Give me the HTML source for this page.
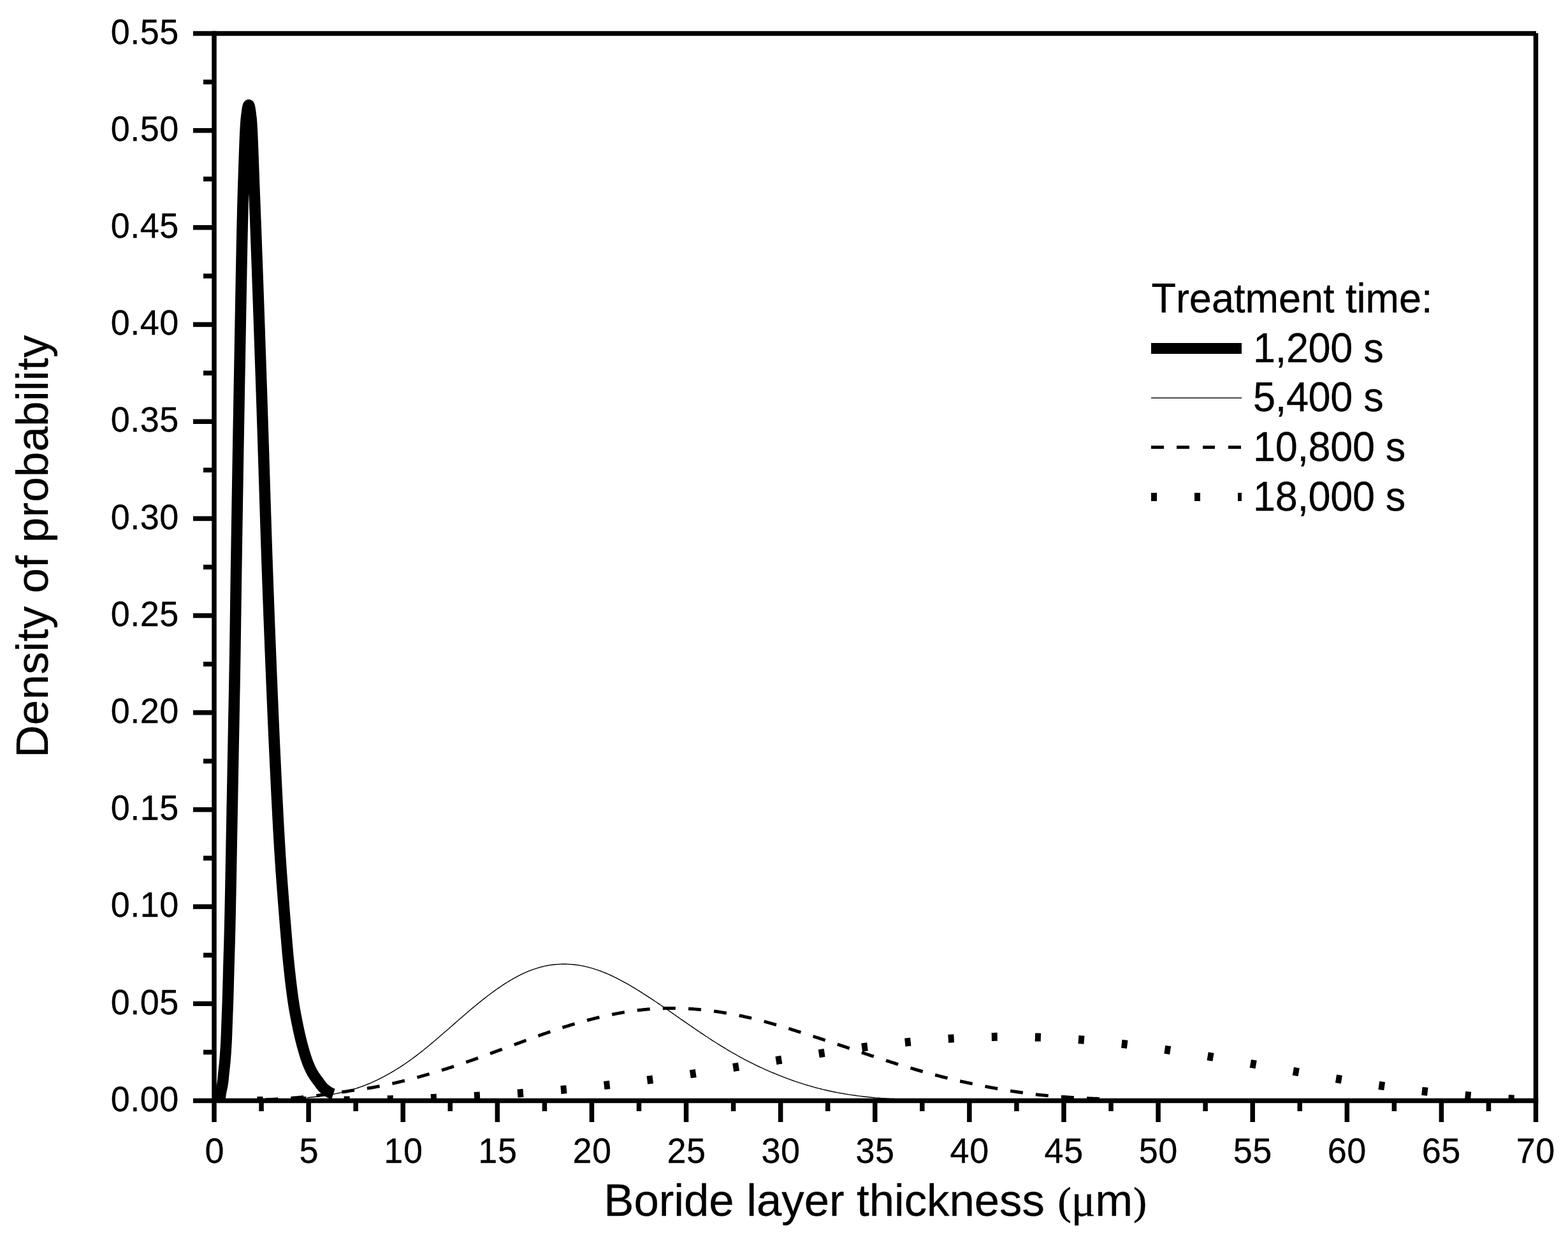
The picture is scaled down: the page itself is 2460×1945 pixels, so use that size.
<!DOCTYPE html>
<html lang="en"><head><meta charset="utf-8"><title>Density of probability vs boride layer thickness</title>
<style>html,body{margin:0;padding:0;background:#fff}body{width:2460px;height:1945px;overflow:hidden}svg{display:block}text{font-family:"Liberation Sans",sans-serif;fill:#000;stroke:#000;stroke-width:0.3px;stroke-linejoin:round;font-kerning:none;font-variant-ligatures:none}.tk{font-size:54px;letter-spacing:0.55px}.lg{font-size:63px}.tt{font-size:70.7px}.sy{font-family:"Liberation Serif",serif}</style></head><body>
<svg width="2460" height="1945" viewBox="0 0 2460 1945">
<rect x="0" y="0" width="2460" height="1945" fill="#fff"/>
<defs><clipPath id="cp"><rect x="336" y="52" width="2074" height="1678"/></clipPath></defs>
<g clip-path="url(#cp)" fill="none" stroke="#000">
<path d="M336.00,1726.50 L336.37,1726.50 L336.75,1726.50 L337.12,1726.49 L337.50,1726.48 L337.87,1726.47 L338.25,1726.46 L338.62,1726.44 L339.00,1726.42 L339.37,1726.40 L339.75,1726.37 L340.12,1726.34 L340.49,1726.31 L340.87,1726.27 L341.24,1726.23 L341.62,1726.18 L341.99,1726.13 L342.37,1726.07 L342.74,1726.01 L343.12,1725.95 L343.41,1725.89 L343.49,1725.86 L343.87,1725.51 L344.24,1724.82 L344.62,1723.87 L344.99,1722.74 L345.00,1722.70 L345.36,1720.77 L345.74,1717.82 L346.11,1715.04 L346.13,1714.93 L346.49,1712.90 L346.86,1711.00 L347.24,1709.24 L347.61,1707.55 L347.99,1705.85 L348.36,1704.05 L348.74,1702.09 L349.11,1699.86 L349.33,1698.41 L349.48,1697.26 L349.86,1694.01 L350.23,1690.29 L350.61,1686.40 L350.98,1682.62 L351.05,1682.00 L351.36,1679.17 L351.73,1675.88 L352.11,1672.56 L352.48,1668.98 L352.80,1665.63 L352.86,1664.94 L353.23,1660.53 L353.60,1655.79 L353.98,1650.62 L354.35,1644.94 L354.73,1638.66 L355.05,1632.79 L355.10,1631.66 L355.48,1622.73 L355.85,1612.28 L356.23,1601.72 L356.29,1600.01 L356.60,1591.99 L356.98,1582.34 L357.33,1572.49 L357.35,1571.80 L357.73,1559.71 L358.10,1546.43 L358.47,1532.52 L358.85,1518.56 L359.22,1505.10 L359.37,1500.05 L359.60,1492.85 L359.97,1480.75 L359.99,1480.00 L360.35,1466.34 L360.72,1450.42 L361.10,1433.37 L361.47,1415.58 L361.59,1409.69 L361.85,1397.02 L362.22,1377.01 L362.59,1356.39 L362.90,1339.99 L362.97,1336.09 L363.34,1316.06 L363.72,1296.04 L364.09,1276.03 L364.47,1256.01 L364.84,1235.98 L365.22,1215.94 L365.59,1195.89 L365.89,1179.98 L365.97,1175.83 L366.34,1156.17 L366.71,1136.84 L367.09,1117.53 L367.46,1097.93 L367.84,1077.74 L368.21,1056.63 L368.49,1039.98 L368.59,1034.26 L368.96,1009.82 L369.34,983.76 L369.71,956.98 L370.09,930.40 L370.46,904.93 L370.54,899.85 L370.84,880.77 L371.21,856.88 L371.58,833.22 L371.96,809.79 L372.33,786.62 L372.71,763.72 L373.08,741.09 L373.46,718.75 L373.83,696.71 L374.21,674.98 L374.58,653.57 L374.96,632.50 L375.33,611.77 L375.54,600.05 L375.70,591.33 L376.08,570.70 L376.45,549.86 L376.83,528.93 L377.20,508.01 L377.58,487.21 L377.95,466.64 L378.33,446.40 L378.70,426.61 L379.08,407.38 L379.45,388.81 L379.82,371.01 L380.20,354.10 L380.57,338.17 L380.95,323.34 L381.32,309.72 L381.62,299.95 L381.70,297.38 L382.07,285.52 L382.45,273.82 L382.82,262.38 L383.20,251.31 L383.57,240.70 L383.95,230.66 L384.32,221.28 L384.69,212.68 L385.07,204.95 L385.44,198.19 L385.82,192.50 L386.19,188.00 L386.36,186.42 L386.57,184.57 L386.94,181.36 L387.32,178.29 L387.69,175.42 L388.07,172.80 L388.44,170.46 L388.81,168.47 L389.19,166.86 L389.56,165.68 L389.94,164.99 L390.24,164.81 L390.31,164.82 L390.69,165.23 L391.06,166.16 L391.44,167.58 L391.81,169.42 L392.19,171.63 L392.56,174.16 L392.93,176.96 L393.31,179.98 L393.68,183.15 L394.06,186.42 L394.06,186.43 L394.43,190.46 L394.81,195.84 L395.18,202.39 L395.56,209.96 L395.93,218.40 L396.31,227.54 L396.68,237.23 L397.06,247.31 L397.43,257.62 L397.80,268.01 L398.18,278.31 L398.55,288.37 L398.93,298.03 L399.00,299.95 L399.30,307.37 L399.68,316.80 L400.05,326.34 L400.43,335.98 L400.80,345.72 L401.18,355.56 L401.55,365.48 L401.92,375.48 L402.30,385.57 L402.67,395.74 L403.05,405.98 L403.42,416.29 L403.80,426.67 L404.17,437.11 L404.55,447.60 L404.92,458.16 L405.30,468.76 L405.67,479.40 L406.04,490.09 L406.42,500.82 L406.79,511.58 L407.17,522.37 L407.54,533.19 L407.92,544.03 L408.29,554.89 L408.67,565.76 L409.04,576.65 L409.42,587.54 L409.79,598.43 L409.85,600.05 L410.17,609.38 L410.54,620.48 L410.91,631.71 L411.29,643.07 L411.66,654.53 L412.04,666.08 L412.41,677.72 L412.79,689.43 L413.16,701.19 L413.54,712.99 L413.91,724.82 L414.29,736.67 L414.66,748.51 L415.03,760.35 L415.41,772.15 L415.78,783.92 L416.16,795.63 L416.53,807.28 L416.91,818.85 L417.28,830.32 L417.66,841.69 L418.03,852.93 L418.41,864.04 L418.78,875.01 L419.15,885.81 L419.53,896.44 L419.65,899.85 L419.90,906.90 L420.28,917.25 L420.65,927.49 L421.03,937.63 L421.40,947.67 L421.78,957.62 L422.15,967.47 L422.53,977.23 L422.90,986.90 L423.28,996.50 L423.65,1006.01 L424.02,1015.44 L424.40,1024.80 L424.77,1034.09 L425.01,1039.98 L425.15,1043.31 L425.52,1052.49 L425.90,1061.63 L426.27,1070.71 L426.65,1079.75 L427.02,1088.72 L427.40,1097.63 L427.77,1106.46 L428.14,1115.22 L428.52,1123.89 L428.89,1132.48 L429.27,1140.97 L429.64,1149.36 L430.02,1157.64 L430.39,1165.81 L430.77,1173.86 L431.06,1179.98 L431.14,1181.80 L431.52,1189.68 L431.89,1197.53 L432.26,1205.34 L432.64,1213.12 L433.01,1220.85 L433.39,1228.53 L433.76,1236.16 L434.14,1243.72 L434.51,1251.21 L434.89,1258.62 L435.26,1265.96 L435.64,1273.20 L436.01,1280.36 L436.39,1287.41 L436.76,1294.36 L437.13,1301.20 L437.51,1307.92 L437.88,1314.52 L438.26,1320.99 L438.63,1327.32 L439.01,1333.52 L439.38,1339.56 L439.41,1339.99 L439.76,1345.45 L440.13,1351.17 L440.51,1356.75 L440.88,1362.19 L441.25,1367.51 L441.63,1372.72 L442.00,1377.85 L442.38,1382.90 L442.75,1387.89 L443.13,1392.83 L443.50,1397.75 L443.88,1402.65 L444.25,1407.55 L444.41,1409.69 L444.63,1412.45 L445.00,1417.31 L445.37,1422.13 L445.75,1426.91 L446.12,1431.64 L446.50,1436.34 L446.87,1441.00 L447.25,1445.63 L447.62,1450.23 L448.00,1454.79 L448.37,1459.33 L448.75,1463.84 L449.12,1468.33 L449.50,1472.80 L449.87,1477.25 L450.10,1480.00 L450.24,1481.69 L450.62,1486.17 L450.99,1490.62 L451.37,1494.92 L451.74,1498.96 L451.85,1500.05 L452.12,1502.74 L452.49,1506.46 L452.87,1510.13 L453.24,1513.75 L453.62,1517.32 L453.99,1520.84 L454.36,1524.31 L454.74,1527.73 L455.11,1531.10 L455.49,1534.41 L455.86,1537.67 L456.24,1540.87 L456.61,1544.01 L456.99,1547.10 L457.36,1550.13 L457.74,1553.09 L458.11,1556.00 L458.48,1558.85 L458.86,1561.64 L459.23,1564.36 L459.61,1567.02 L459.98,1569.62 L460.36,1572.14 L460.41,1572.49 L460.73,1574.60 L461.11,1576.98 L461.48,1579.29 L461.86,1581.53 L462.23,1583.70 L462.61,1585.83 L462.98,1587.90 L463.35,1589.93 L463.73,1591.93 L464.10,1593.89 L464.48,1595.83 L464.85,1597.75 L465.23,1599.65 L465.30,1600.01 L465.60,1601.54 L465.98,1603.42 L466.35,1605.29 L466.73,1607.13 L467.10,1608.96 L467.47,1610.77 L467.85,1612.56 L468.22,1614.33 L468.60,1616.08 L468.97,1617.81 L469.35,1619.51 L469.72,1621.19 L470.10,1622.85 L470.47,1624.47 L470.85,1626.08 L471.22,1627.65 L471.59,1629.19 L471.97,1630.71 L472.34,1632.19 L472.50,1632.79 L472.72,1633.65 L473.09,1635.10 L473.47,1636.53 L473.84,1637.95 L474.22,1639.36 L474.59,1640.75 L474.97,1642.13 L475.34,1643.50 L475.72,1644.85 L476.09,1646.18 L476.46,1647.50 L476.84,1648.81 L477.21,1650.09 L477.59,1651.36 L477.96,1652.61 L478.34,1653.84 L478.71,1655.06 L479.09,1656.25 L479.46,1657.42 L479.84,1658.57 L480.21,1659.71 L480.58,1660.81 L480.96,1661.90 L481.33,1662.96 L481.71,1664.00 L482.08,1665.02 L482.30,1665.60 L482.46,1666.01 L482.83,1666.99 L483.21,1667.94 L483.58,1668.89 L483.96,1669.81 L484.33,1670.72 L484.70,1671.62 L485.08,1672.50 L485.45,1673.36 L485.83,1674.20 L486.20,1675.03 L486.58,1675.85 L486.95,1676.65 L487.33,1677.43 L487.70,1678.19 L488.08,1678.94 L488.45,1679.67 L488.83,1680.39 L489.20,1681.08 L489.57,1681.77 L489.71,1682.00 L489.95,1682.43 L490.32,1683.08 L490.70,1683.72 L491.07,1684.35 L491.45,1684.96 L491.82,1685.57 L492.20,1686.16 L492.57,1686.74 L492.95,1687.31 L493.32,1687.87 L493.69,1688.43 L494.07,1688.97 L494.44,1689.51 L494.82,1690.05 L495.19,1690.57 L495.57,1691.10 L495.94,1691.61 L496.32,1692.13 L496.69,1692.64 L497.07,1693.14 L497.44,1693.65 L497.81,1694.15 L498.19,1694.65 L498.56,1695.16 L498.94,1695.66 L499.31,1696.16 L499.69,1696.67 L500.06,1697.18 L500.44,1697.69 L500.81,1698.20 L500.96,1698.41 L501.19,1698.72 L501.56,1699.24 L501.94,1699.77 L502.31,1700.30 L502.68,1700.83 L503.06,1701.35 L503.43,1701.87 L503.81,1702.37 L504.18,1702.87 L504.56,1703.34 L504.93,1703.80 L505.31,1704.24 L505.61,1704.59 L505.68,1704.66 L506.06,1705.06 L506.43,1705.46 L506.80,1705.85 L507.18,1706.23 L507.55,1706.61 L507.93,1706.97 L508.30,1707.33 L508.68,1707.68 L509.05,1708.02 L509.43,1708.34 L509.80,1708.66 L510.18,1708.97 L510.55,1709.27 L510.92,1709.56 L511.30,1709.84 L511.66,1710.09 L511.67,1710.11 L512.05,1710.37 L512.42,1710.63 L512.80,1710.88 L513.17,1711.14 L513.55,1711.39 L513.92,1711.64 L514.30,1711.88 L514.67,1712.13 L515.05,1712.37 L515.42,1712.60 L515.79,1712.83 L516.17,1713.06 L516.54,1713.28 L516.92,1713.50 L517.29,1713.71 L517.67,1713.92 L518.04,1714.13 L518.42,1714.33 L518.79,1714.52 L519.17,1714.71 L519.54,1714.89 L519.91,1715.06 L520.29,1715.23 L520.66,1715.39 L521.04,1715.55 L521.41,1715.69 L521.79,1715.84 L522.16,1715.97 L522.54,1716.09 L522.91,1716.21" stroke-width="17.6" stroke-linejoin="round" stroke-linecap="butt"/>
<path d="M482.03,1721.72 L484.36,1721.49 L486.68,1721.27 L489.00,1721.03 L491.32,1720.78 L493.64,1720.53 L495.96,1720.26 L498.28,1719.98 L500.61,1719.70 L502.93,1719.40 L505.25,1719.08 L507.57,1718.76 L509.89,1718.42 L512.21,1718.07 L514.53,1717.70 L516.86,1717.32 L519.18,1716.92 L521.50,1716.51 L523.82,1716.08 L526.14,1715.63 L528.46,1715.17 L530.78,1714.69 L533.11,1714.18 L535.43,1713.66 L537.75,1713.12 L540.07,1712.56 L542.39,1711.98 L544.71,1711.38 L547.03,1710.75 L549.36,1710.11 L551.68,1709.44 L554.00,1708.75 L556.32,1708.03 L558.64,1707.30 L560.96,1706.53 L563.28,1705.75 L565.61,1704.94 L567.93,1704.10 L570.25,1703.24 L572.57,1702.35 L574.89,1701.44 L577.21,1700.50 L579.53,1699.53 L581.86,1698.54 L584.18,1697.52 L586.50,1696.47 L588.82,1695.40 L591.14,1694.29 L593.46,1693.17 L595.79,1692.02 L598.11,1690.85 L600.43,1689.65 L602.75,1688.43 L605.07,1687.18 L607.39,1685.91 L609.71,1684.62 L612.04,1683.30 L614.36,1681.96 L616.68,1680.59 L619.00,1679.19 L621.32,1677.77 L623.64,1676.33 L625.96,1674.86 L628.29,1673.37 L630.61,1671.85 L632.93,1670.30 L635.25,1668.74 L637.57,1667.14 L639.89,1665.53 L642.21,1663.89 L644.54,1662.22 L646.86,1660.53 L649.18,1658.82 L651.50,1657.08 L653.82,1655.32 L656.14,1653.54 L658.46,1651.73 L660.79,1649.91 L663.11,1648.06 L665.43,1646.20 L667.75,1644.32 L670.07,1642.42 L672.39,1640.51 L674.71,1638.58 L677.04,1636.64 L679.36,1634.69 L681.68,1632.72 L684.00,1630.75 L686.32,1628.76 L688.64,1626.77 L690.96,1624.78 L693.29,1622.77 L695.61,1620.77 L697.93,1618.76 L700.25,1616.74 L702.57,1614.73 L704.89,1612.71 L707.22,1610.69 L709.54,1608.66 L711.86,1606.63 L714.18,1604.60 L716.50,1602.57 L718.82,1600.55 L721.14,1598.52 L723.47,1596.50 L725.79,1594.49 L728.11,1592.48 L730.43,1590.48 L732.75,1588.48 L735.07,1586.50 L737.39,1584.52 L739.72,1582.56 L742.04,1580.61 L744.36,1578.68 L746.68,1576.75 L749.00,1574.85 L751.32,1572.96 L753.64,1571.09 L755.97,1569.24 L758.29,1567.41 L760.61,1565.59 L762.93,1563.80 L765.25,1562.02 L767.57,1560.26 L769.89,1558.53 L772.22,1556.81 L774.54,1555.11 L776.86,1553.44 L779.18,1551.80 L781.50,1550.17 L783.82,1548.57 L786.14,1547.00 L788.47,1545.45 L790.79,1543.93 L793.11,1542.44 L795.43,1540.98 L797.75,1539.55 L800.07,1538.14 L802.39,1536.77 L804.72,1535.43 L807.04,1534.12 L809.36,1532.84 L811.68,1531.59 L814.00,1530.38 L816.32,1529.21 L818.65,1528.07 L820.97,1526.98 L823.29,1525.92 L825.61,1524.90 L827.93,1523.91 L830.25,1522.97 L832.57,1522.07 L834.90,1521.20 L837.22,1520.37 L839.54,1519.59 L841.86,1518.84 L844.18,1518.13 L846.50,1517.46 L848.82,1516.83 L851.15,1516.25 L853.47,1515.69 L855.79,1515.18 L858.11,1514.71 L860.43,1514.28 L862.75,1513.89 L865.07,1513.55 L867.40,1513.26 L869.72,1513.01 L872.04,1512.80 L874.36,1512.63 L876.68,1512.50 L879.00,1512.39 L881.32,1512.32 L883.65,1512.28 L885.97,1512.27 L888.29,1512.29 L890.61,1512.36 L892.93,1512.46 L895.25,1512.60 L897.57,1512.78 L899.90,1513.00 L902.22,1513.25 L904.54,1513.55 L906.86,1513.87 L909.18,1514.24 L911.50,1514.64 L913.82,1515.08 L916.15,1515.56 L918.47,1516.07 L920.79,1516.61 L923.11,1517.19 L925.43,1517.81 L927.75,1518.45 L930.08,1519.13 L932.40,1519.85 L934.72,1520.59 L937.04,1521.37 L939.36,1522.18 L941.68,1523.02 L944.00,1523.89 L946.33,1524.79 L948.65,1525.73 L950.97,1526.69 L953.29,1527.67 L955.61,1528.69 L957.93,1529.74 L960.25,1530.81 L962.58,1531.90 L964.90,1533.03 L967.22,1534.18 L969.54,1535.35 L971.86,1536.55 L974.18,1537.77 L976.50,1539.01 L978.83,1540.27 L981.15,1541.56 L983.47,1542.87 L985.79,1544.20 L988.11,1545.54 L990.43,1546.91 L992.75,1548.29 L995.08,1549.69 L997.40,1551.10 L999.72,1552.52 L1002.04,1553.95 L1004.36,1555.40 L1006.68,1556.86 L1009.00,1558.33 L1011.33,1559.81 L1013.65,1561.30 L1015.97,1562.81 L1018.29,1564.32 L1020.61,1565.85 L1022.93,1567.38 L1025.26,1568.92 L1027.58,1570.47 L1029.90,1572.03 L1032.22,1573.60 L1034.54,1575.18 L1036.86,1576.76 L1039.18,1578.35 L1041.51,1579.95 L1043.83,1581.55 L1046.15,1583.16 L1048.47,1584.77 L1050.79,1586.39 L1053.11,1588.00 L1055.43,1589.62 L1057.76,1591.24 L1060.08,1592.86 L1062.40,1594.48 L1064.72,1596.09 L1067.04,1597.71 L1069.36,1599.33 L1071.68,1600.94 L1074.01,1602.55 L1076.33,1604.16 L1078.65,1605.77 L1080.97,1607.37 L1083.29,1608.97 L1085.61,1610.57 L1087.93,1612.16 L1090.26,1613.75 L1092.58,1615.33 L1094.90,1616.91 L1097.22,1618.48 L1099.54,1620.05 L1101.86,1621.61 L1104.18,1623.16 L1106.51,1624.71 L1108.83,1626.24 L1111.15,1627.77 L1113.47,1629.28 L1115.79,1630.79 L1118.11,1632.29 L1120.43,1633.77 L1122.76,1635.25 L1125.08,1636.72 L1127.40,1638.17 L1129.72,1639.61 L1132.04,1641.05 L1134.36,1642.47 L1136.69,1643.88 L1139.01,1645.27 L1141.33,1646.66 L1143.65,1648.03 L1145.97,1649.39 L1148.29,1650.74 L1150.61,1652.08 L1152.94,1653.40 L1155.26,1654.71 L1157.58,1656.00 L1159.90,1657.29 L1162.22,1658.56 L1164.54,1659.82 L1166.86,1661.06 L1169.19,1662.29 L1171.51,1663.51 L1173.83,1664.71 L1176.15,1665.90 L1178.47,1667.08 L1180.79,1668.24 L1183.11,1669.39 L1185.44,1670.52 L1187.76,1671.64 L1190.08,1672.75 L1192.40,1673.84 L1194.72,1674.91 L1197.04,1675.98 L1199.36,1677.02 L1201.69,1678.06 L1204.01,1679.08 L1206.33,1680.08 L1208.65,1681.07 L1210.97,1682.05 L1213.29,1683.01 L1215.61,1683.97 L1217.94,1684.92 L1220.26,1685.86 L1222.58,1686.79 L1224.90,1687.72 L1227.22,1688.63 L1229.54,1689.54 L1231.86,1690.43 L1234.19,1691.31 L1236.51,1692.19 L1238.83,1693.05 L1241.15,1693.89 L1243.47,1694.73 L1245.79,1695.55 L1248.12,1696.36 L1250.44,1697.15 L1252.76,1697.92 L1255.08,1698.69 L1257.40,1699.43 L1259.72,1700.16 L1262.04,1700.88 L1264.37,1701.58 L1266.69,1702.27 L1269.01,1702.95 L1271.33,1703.63 L1273.65,1704.29 L1275.97,1704.93 L1278.29,1705.57 L1280.62,1706.20 L1282.94,1706.81 L1285.26,1707.41 L1287.58,1708.00 L1289.90,1708.58 L1292.22,1709.14 L1294.54,1709.70 L1296.87,1710.23 L1299.19,1710.76 L1301.51,1711.27 L1303.83,1711.77 L1306.15,1712.26 L1308.47,1712.73 L1310.79,1713.19 L1313.12,1713.64 L1315.44,1714.07 L1317.76,1714.49 L1320.08,1714.90 L1322.40,1715.30 L1324.72,1715.69 L1327.04,1716.08 L1329.37,1716.45 L1331.69,1716.82 L1334.01,1717.17 L1336.33,1717.52 L1338.65,1717.86 L1340.97,1718.19 L1343.29,1718.51 L1345.62,1718.82 L1347.94,1719.13 L1350.26,1719.42 L1352.58,1719.71 L1354.90,1719.99 L1357.22,1720.26 L1359.55,1720.52 L1361.87,1720.77 L1364.19,1721.02 L1366.51,1721.26 L1368.83,1721.48 L1371.15,1721.70 L1373.47,1721.91 L1375.80,1722.11 L1378.12,1722.29 L1380.44,1722.46 L1382.76,1722.62 L1385.08,1722.77 L1387.40,1722.91 L1389.72,1723.03 L1392.05,1723.15 L1394.37,1723.25 L1396.69,1723.35 L1399.01,1723.43 L1401.33,1723.51 L1403.65,1723.59 L1405.97,1723.65 L1408.30,1723.71" stroke-width="1.4"/>
<path d="M336.03,1726.50 L337.79,1726.50 L339.54,1726.50 L341.30,1726.50 L343.06,1726.50 L344.82,1726.49 L346.57,1726.49 L348.33,1726.48 L350.09,1726.47 L351.84,1726.47 L353.60,1726.46 L355.36,1726.45 L357.12,1726.43 L358.87,1726.42 L360.63,1726.40 L362.39,1726.39 L364.15,1726.37 L365.90,1726.35 L367.66,1726.33 L369.42,1726.30 L371.17,1726.28 L372.93,1726.25 L374.69,1726.22 L376.45,1726.19 L378.20,1726.16 L379.96,1726.13 L381.72,1726.09 L383.47,1726.05 L385.23,1726.01 L386.99,1725.97 L388.75,1725.92 L390.50,1725.88 L392.26,1725.83 L394.02,1725.78 L395.78,1725.72 L397.53,1725.67 L399.29,1725.61 L401.05,1725.55 L402.80,1725.49 L404.56,1725.43 L406.32,1725.36 L408.08,1725.29 L409.83,1725.22 L411.59,1725.15 L413.35,1725.07 L415.10,1725.00 L416.86,1724.91 L418.62,1724.83 L420.38,1724.75 L422.13,1724.66 L423.89,1724.57 L425.65,1724.48 L427.41,1724.38 L429.16,1724.28 L430.92,1724.18 L432.68,1724.08 L434.43,1723.98 L436.19,1723.87 L437.95,1723.76 L439.71,1723.65 L441.46,1723.53 L443.22,1723.41 L444.98,1723.29 L446.74,1723.17 L448.49,1723.04 L450.25,1722.91 L452.01,1722.78 L453.76,1722.65 L455.52,1722.51 L457.28,1722.37 L459.04,1722.23 L460.79,1722.08 L462.55,1721.93 L464.31,1721.78 L466.06,1721.63 L467.82,1721.47 L469.58,1721.31 L471.34,1721.15 L473.09,1720.99 L474.85,1720.82 L476.61,1720.65 L478.37,1720.47 L480.12,1720.30 L481.88,1720.12 L483.64,1719.94 L485.39,1719.75 L487.15,1719.56 L488.91,1719.37 L490.67,1719.18 L492.42,1718.98 L494.18,1718.78 L495.94,1718.58 L497.69,1718.37 L499.45,1718.16 L501.21,1717.95 L502.97,1717.74 L504.72,1717.52 L506.48,1717.30 L508.24,1717.07 L510.00,1716.85 L511.75,1716.62 L513.51,1716.38 L515.27,1716.15 L517.02,1715.91 L518.78,1715.66 L520.54,1715.42 L522.30,1715.17 L524.05,1714.92 L525.81,1714.66 L527.57,1714.41 L529.32,1714.15 L531.08,1713.88 L532.84,1713.61 L534.60,1713.34 L536.35,1713.07 L538.11,1712.80 L539.87,1712.52 L541.63,1712.23 L543.38,1711.95 L545.14,1711.66 L546.90,1711.37 L548.65,1711.09 L550.41,1710.81 L552.17,1710.55 L553.93,1710.29 L555.68,1710.04 L557.44,1709.79 L559.20,1709.54 L560.95,1709.30 L562.71,1709.06 L564.47,1708.82 L566.23,1708.58 L567.98,1708.34 L569.74,1708.10 L571.50,1707.85 L573.26,1707.60 L575.01,1707.34 L576.77,1707.08 L578.53,1706.81 L580.28,1706.53 L582.04,1706.24 L583.80,1705.94 L585.56,1705.63 L587.31,1705.31 L589.07,1704.98 L590.83,1704.66 L592.59,1704.32 L594.34,1703.99 L596.10,1703.65 L597.86,1703.31 L599.61,1702.96 L601.37,1702.61 L603.13,1702.25 L604.89,1701.89 L606.64,1701.53 L608.40,1701.16 L610.16,1700.79 L611.91,1700.41 L613.67,1700.03 L615.43,1699.64 L617.19,1699.25 L618.94,1698.85 L620.70,1698.44 L622.46,1698.03 L624.22,1697.62 L625.97,1697.20 L627.73,1696.78 L629.49,1696.35 L631.24,1695.92 L633.00,1695.49 L634.76,1695.05 L636.52,1694.61 L638.27,1694.17 L640.03,1693.73 L641.79,1693.28 L643.54,1692.82 L645.30,1692.37 L647.06,1691.91 L648.82,1691.45 L650.57,1690.98 L652.33,1690.51 L654.09,1690.04 L655.85,1689.56 L657.60,1689.08 L659.36,1688.60 L661.12,1688.11 L662.87,1687.62 L664.63,1687.13 L666.39,1686.63 L668.15,1686.13 L669.90,1685.62 L671.66,1685.12 L673.42,1684.60 L675.17,1684.09 L676.93,1683.57 L678.69,1683.05 L680.45,1682.53 L682.20,1682.01 L683.96,1681.48 L685.72,1680.95 L687.48,1680.41 L689.23,1679.88 L690.99,1679.34 L692.75,1678.80 L694.50,1678.25 L696.26,1677.70 L698.02,1677.16 L699.78,1676.60 L701.53,1676.05 L703.29,1675.49 L705.05,1674.93 L706.80,1674.37 L708.56,1673.80 L710.32,1673.22 L712.08,1672.65 L713.83,1672.07 L715.59,1671.48 L717.35,1670.89 L719.11,1670.30 L720.86,1669.71 L722.62,1669.11 L724.38,1668.51 L726.13,1667.91 L727.89,1667.30 L729.65,1666.69 L731.41,1666.08 L733.16,1665.47 L734.92,1664.86 L736.68,1664.25 L738.44,1663.63 L740.19,1663.02 L741.95,1662.40 L743.71,1661.78 L745.46,1661.16 L747.22,1660.53 L748.98,1659.91 L750.74,1659.28 L752.49,1658.64 L754.25,1658.01 L756.01,1657.37 L757.76,1656.74 L759.52,1656.10 L761.28,1655.46 L763.04,1654.82 L764.79,1654.18 L766.55,1653.53 L768.31,1652.89 L770.07,1652.24 L771.82,1651.60 L773.58,1650.95 L775.34,1650.31 L777.09,1649.66 L778.85,1649.02 L780.61,1648.37 L782.37,1647.72 L784.12,1647.08 L785.88,1646.43 L787.64,1645.78 L789.39,1645.13 L791.15,1644.48 L792.91,1643.84 L794.67,1643.19 L796.42,1642.54 L798.18,1641.89 L799.94,1641.24 L801.70,1640.59 L803.45,1639.94 L805.21,1639.29 L806.97,1638.64 L808.72,1638.00 L810.48,1637.35 L812.24,1636.70 L814.00,1636.05 L815.75,1635.40 L817.51,1634.76 L819.27,1634.11 L821.02,1633.46 L822.78,1632.81 L824.54,1632.17 L826.30,1631.52 L828.05,1630.87 L829.81,1630.23 L831.57,1629.58 L833.33,1628.94 L835.08,1628.29 L836.84,1627.65 L838.60,1627.01 L840.35,1626.37 L842.11,1625.74 L843.87,1625.11 L845.63,1624.47 L847.38,1623.85 L849.14,1623.22 L850.90,1622.60 L852.65,1621.98 L854.41,1621.36 L856.17,1620.75 L857.93,1620.13 L859.68,1619.52 L861.44,1618.91 L863.20,1618.30 L864.96,1617.69 L866.71,1617.09 L868.47,1616.48 L870.23,1615.88 L871.98,1615.29 L873.74,1614.70 L875.50,1614.11 L877.26,1613.53 L879.01,1612.95 L880.77,1612.37 L882.53,1611.80 L884.29,1611.24 L886.04,1610.68 L887.80,1610.12 L889.56,1609.58 L891.31,1609.04 L893.07,1608.50 L894.83,1607.97 L896.59,1607.44 L898.34,1606.92 L900.10,1606.40 L901.86,1605.88 L903.61,1605.37 L905.37,1604.86 L907.13,1604.35 L908.89,1603.85 L910.64,1603.35 L912.40,1602.86 L914.16,1602.37 L915.92,1601.88 L917.67,1601.40 L919.43,1600.93 L921.19,1600.46 L922.94,1599.99 L924.70,1599.53 L926.46,1599.07 L928.22,1598.62 L929.97,1598.18 L931.73,1597.74 L933.49,1597.30 L935.24,1596.87 L937.00,1596.45 L938.76,1596.03 L940.52,1595.61 L942.27,1595.20 L944.03,1594.80 L945.79,1594.40 L947.55,1594.00 L949.30,1593.61 L951.06,1593.23 L952.82,1592.85 L954.57,1592.47 L956.33,1592.10 L958.09,1591.74 L959.85,1591.38 L961.60,1591.03 L963.36,1590.68 L965.12,1590.33 L966.87,1590.00 L968.63,1589.66 L970.39,1589.34 L972.15,1589.01 L973.90,1588.70 L975.66,1588.39 L977.42,1588.09 L979.18,1587.80 L980.93,1587.51 L982.69,1587.23 L984.45,1586.95 L986.20,1586.68 L987.96,1586.42 L989.72,1586.16 L991.48,1585.91 L993.23,1585.67 L994.99,1585.43 L996.75,1585.20 L998.51,1584.98 L1000.26,1584.76 L1002.02,1584.55 L1003.78,1584.35 L1005.53,1584.15 L1007.29,1583.95 L1009.05,1583.77 L1010.81,1583.59 L1012.56,1583.42 L1014.32,1583.25 L1016.08,1583.10 L1017.83,1582.95 L1019.59,1582.80 L1021.35,1582.67 L1023.11,1582.54 L1024.86,1582.42 L1026.62,1582.31 L1028.38,1582.21 L1030.14,1582.11 L1031.89,1582.02 L1033.65,1581.93 L1035.41,1581.86 L1037.16,1581.79 L1038.92,1581.72 L1040.68,1581.67 L1042.44,1581.62 L1044.19,1581.58 L1045.95,1581.54 L1047.71,1581.51 L1049.46,1581.48 L1051.22,1581.47 L1052.98,1581.46 L1054.74,1581.45 L1056.49,1581.46 L1058.25,1581.47 L1060.01,1581.49 L1061.77,1581.52 L1063.52,1581.55 L1065.28,1581.60 L1067.04,1581.64 L1068.79,1581.70 L1070.55,1581.76 L1072.31,1581.83 L1074.07,1581.91 L1075.82,1581.99 L1077.58,1582.08 L1079.34,1582.17 L1081.09,1582.27 L1082.85,1582.38 L1084.61,1582.49 L1086.37,1582.61 L1088.12,1582.74 L1089.88,1582.87 L1091.64,1583.00 L1093.40,1583.15 L1095.15,1583.30 L1096.91,1583.45 L1098.67,1583.62 L1100.42,1583.79 L1102.18,1583.97 L1103.94,1584.15 L1105.70,1584.34 L1107.45,1584.53 L1109.21,1584.74 L1110.97,1584.94 L1112.72,1585.16 L1114.48,1585.38 L1116.24,1585.60 L1118.00,1585.83 L1119.75,1586.07 L1121.51,1586.31 L1123.27,1586.55 L1125.03,1586.80 L1126.78,1587.06 L1128.54,1587.32 L1130.30,1587.59 L1132.05,1587.86 L1133.81,1588.14 L1135.57,1588.42 L1137.33,1588.71 L1139.08,1589.00 L1140.84,1589.30 L1142.60,1589.60 L1144.36,1589.91 L1146.11,1590.23 L1147.87,1590.55 L1149.63,1590.87 L1151.38,1591.21 L1153.14,1591.54 L1154.90,1591.89 L1156.66,1592.23 L1158.41,1592.59 L1160.17,1592.95 L1161.93,1593.31 L1163.68,1593.68 L1165.44,1594.06 L1167.20,1594.44 L1168.96,1594.83 L1170.71,1595.22 L1172.47,1595.62 L1174.23,1596.02 L1175.99,1596.43 L1177.74,1596.85 L1179.50,1597.27 L1181.26,1597.69 L1183.01,1598.12 L1184.77,1598.56 L1186.53,1599.00 L1188.29,1599.44 L1190.04,1599.89 L1191.80,1600.35 L1193.56,1600.80 L1195.31,1601.27 L1197.07,1601.73 L1198.83,1602.20 L1200.59,1602.67 L1202.34,1603.15 L1204.10,1603.62 L1205.86,1604.10 L1207.62,1604.59 L1209.37,1605.07 L1211.13,1605.56 L1212.89,1606.06 L1214.64,1606.56 L1216.40,1607.06 L1218.16,1607.56 L1219.92,1608.08 L1221.67,1608.59 L1223.43,1609.11 L1225.19,1609.63 L1226.94,1610.16 L1228.70,1610.69 L1230.46,1611.22 L1232.22,1611.75 L1233.97,1612.29 L1235.73,1612.84 L1237.49,1613.38 L1239.25,1613.93 L1241.00,1614.49 L1242.76,1615.04 L1244.52,1615.60 L1246.27,1616.16 L1248.03,1616.73 L1249.79,1617.29 L1251.55,1617.85 L1253.30,1618.40 L1255.06,1618.96 L1256.82,1619.52 L1258.57,1620.07 L1260.33,1620.62 L1262.09,1621.18 L1263.85,1621.73 L1265.60,1622.29 L1267.36,1622.84 L1269.12,1623.40 L1270.88,1623.96 L1272.63,1624.52 L1274.39,1625.08 L1276.15,1625.64 L1277.90,1626.21 L1279.66,1626.77 L1281.42,1627.34 L1283.18,1627.92 L1284.93,1628.49 L1286.69,1629.07 L1288.45,1629.65 L1290.21,1630.22 L1291.96,1630.80 L1293.72,1631.38 L1295.48,1631.95 L1297.23,1632.53 L1298.99,1633.11 L1300.75,1633.69 L1302.51,1634.27 L1304.26,1634.85 L1306.02,1635.43 L1307.78,1636.01 L1309.53,1636.59 L1311.29,1637.17 L1313.05,1637.76 L1314.81,1638.34 L1316.56,1638.93 L1318.32,1639.52 L1320.08,1640.11 L1321.84,1640.70 L1323.59,1641.29 L1325.35,1641.88 L1327.11,1642.48 L1328.86,1643.07 L1330.62,1643.67 L1332.38,1644.26 L1334.14,1644.86 L1335.89,1645.45 L1337.65,1646.05 L1339.41,1646.64 L1341.16,1647.24 L1342.92,1647.83 L1344.68,1648.43 L1346.44,1649.02 L1348.19,1649.61 L1349.95,1650.21 L1351.71,1650.80 L1353.47,1651.39 L1355.22,1651.98 L1356.98,1652.57 L1358.74,1653.16 L1360.49,1653.75 L1362.25,1654.34 L1364.01,1654.92 L1365.77,1655.51 L1367.52,1656.09 L1369.28,1656.67 L1371.04,1657.25 L1372.79,1657.83 L1374.55,1658.41 L1376.31,1658.99 L1378.07,1659.56 L1379.82,1660.13 L1381.58,1660.71 L1383.34,1661.28 L1385.10,1661.84 L1386.85,1662.41 L1388.61,1662.98 L1390.37,1663.54 L1392.12,1664.10 L1393.88,1664.66 L1395.64,1665.22 L1397.40,1665.78 L1399.15,1666.34 L1400.91,1666.89 L1402.67,1667.44 L1404.42,1667.99 L1406.18,1668.54 L1407.94,1669.08 L1409.70,1669.62 L1411.45,1670.16 L1413.21,1670.70 L1414.97,1671.23 L1416.73,1671.76 L1418.48,1672.29 L1420.24,1672.82 L1422.00,1673.35 L1423.75,1673.87 L1425.51,1674.40 L1427.27,1674.92 L1429.03,1675.43 L1430.78,1675.95 L1432.54,1676.47 L1434.30,1676.98 L1436.06,1677.49 L1437.81,1678.00 L1439.57,1678.51 L1441.33,1679.02 L1443.08,1679.52 L1444.84,1680.02 L1446.60,1680.52 L1448.36,1681.01 L1450.11,1681.50 L1451.87,1681.99 L1453.63,1682.48 L1455.38,1682.96 L1457.14,1683.44 L1458.90,1683.92 L1460.66,1684.39 L1462.41,1684.86 L1464.17,1685.33 L1465.93,1685.80 L1467.69,1686.27 L1469.44,1686.73 L1471.20,1687.19 L1472.96,1687.65 L1474.71,1688.11 L1476.47,1688.57 L1478.23,1689.02 L1479.99,1689.47 L1481.74,1689.92 L1483.50,1690.36 L1485.26,1690.80 L1487.01,1691.24 L1488.77,1691.67 L1490.53,1692.10 L1492.29,1692.52 L1494.04,1692.95 L1495.80,1693.36 L1497.56,1693.78 L1499.32,1694.19 L1501.07,1694.60 L1502.83,1695.00 L1504.59,1695.41 L1506.34,1695.80 L1508.10,1696.20 L1509.86,1696.59 L1511.62,1696.98 L1513.37,1697.36 L1515.13,1697.74 L1516.89,1698.12 L1518.64,1698.49 L1520.40,1698.87 L1522.16,1699.24 L1523.92,1699.61 L1525.67,1699.99 L1527.43,1700.36 L1529.19,1700.72 L1530.95,1701.09 L1532.70,1701.45 L1534.46,1701.82 L1536.22,1702.18 L1537.97,1702.53 L1539.73,1702.89 L1541.49,1703.24 L1543.25,1703.59 L1545.00,1703.93 L1546.76,1704.28 L1548.52,1704.62 L1550.27,1704.95 L1552.03,1705.29 L1553.79,1705.61 L1555.55,1705.94 L1557.30,1706.26 L1559.06,1706.58 L1560.82,1706.90 L1562.58,1707.22 L1564.33,1707.54 L1566.09,1707.85 L1567.85,1708.16 L1569.60,1708.47 L1571.36,1708.78 L1573.12,1709.09 L1574.88,1709.39 L1576.63,1709.69 L1578.39,1709.99 L1580.15,1710.28 L1581.91,1710.57 L1583.66,1710.86 L1585.42,1711.14 L1587.18,1711.42 L1588.93,1711.70 L1590.69,1711.97 L1592.45,1712.24 L1594.21,1712.51 L1595.96,1712.77 L1597.72,1713.03 L1599.48,1713.29 L1601.23,1713.55 L1602.99,1713.80 L1604.75,1714.06 L1606.51,1714.31 L1608.26,1714.56 L1610.02,1714.80 L1611.78,1715.05 L1613.54,1715.29 L1615.29,1715.52 L1617.05,1715.76 L1618.81,1715.98 L1620.56,1716.20 L1622.32,1716.42 L1624.08,1716.63 L1625.84,1716.84 L1627.59,1717.04 L1629.35,1717.23 L1631.11,1717.41 L1632.86,1717.59 L1634.62,1717.76 L1636.38,1717.93 L1638.14,1718.09 L1639.89,1718.25 L1641.65,1718.41 L1643.41,1718.56 L1645.17,1718.72 L1646.92,1718.87 L1648.68,1719.01 L1650.44,1719.16 L1652.19,1719.30 L1653.95,1719.44 L1655.71,1719.58 L1657.47,1719.72 L1659.22,1719.85 L1660.98,1719.98 L1662.74,1720.11 L1664.49,1720.24 L1666.25,1720.37 L1668.01,1720.49 L1669.77,1720.61 L1671.52,1720.73 L1673.28,1720.85 L1675.04,1720.97 L1676.80,1721.08 L1678.55,1721.19 L1680.31,1721.30 L1682.07,1721.41 L1683.82,1721.52 L1685.58,1721.62 L1687.34,1721.72 L1689.10,1721.82 L1690.85,1721.92 L1692.61,1722.02 L1694.37,1722.12 L1696.12,1722.21 L1697.88,1722.30 L1699.64,1722.39 L1701.40,1722.48 L1703.15,1722.57 L1704.91,1722.65 L1706.67,1722.74 L1708.43,1722.82 L1710.18,1722.90 L1711.94,1722.98 L1713.70,1723.06 L1715.45,1723.14 L1717.21,1723.21 L1718.97,1723.28 L1720.73,1723.36 L1722.48,1723.43 L1724.24,1723.50 L1726.00,1723.56 L1727.76,1723.63 L1729.51,1723.70 L1731.27,1723.76 L1733.03,1723.82 L1734.78,1723.89 L1736.54,1723.95 L1738.30,1724.01 L1740.06,1724.06" stroke-width="5" stroke-dasharray="20 20.19" stroke-dashoffset="0.13"/>
<path d="M336.03,1726.50 L338.08,1726.50 L340.14,1726.50 L342.19,1726.50 L344.25,1726.50 L346.30,1726.50 L348.36,1726.50 L350.41,1726.50 L352.47,1726.50 L354.52,1726.50 L356.58,1726.50 L358.63,1726.50 L360.69,1726.50 L362.74,1726.50 L364.80,1726.50 L366.85,1726.50 L368.91,1726.50 L370.96,1726.50 L373.02,1726.50 L375.07,1726.50 L377.13,1726.50 L379.18,1726.50 L381.24,1726.50 L383.29,1726.50 L385.34,1726.50 L387.40,1726.50 L389.45,1726.50 L391.51,1726.50 L393.56,1726.50 L395.62,1726.50 L397.67,1726.50 L399.73,1726.50 L401.78,1726.50 L403.84,1726.50 L405.89,1726.50 L407.95,1726.50 L410.00,1726.50 L412.06,1726.50 L414.11,1726.50 L416.17,1726.50 L418.22,1726.50 L420.28,1726.50 L422.33,1726.50 L424.39,1726.50 L426.44,1726.50 L428.50,1726.50 L430.55,1726.50 L432.60,1726.50 L434.66,1726.50 L436.71,1726.50 L438.77,1726.50 L440.82,1726.50 L442.88,1726.50 L444.93,1726.50 L446.99,1726.50 L449.04,1726.50 L451.10,1726.50 L453.15,1726.50 L455.21,1726.50 L457.26,1726.50 L459.32,1726.50 L461.37,1726.50 L463.43,1726.50 L465.48,1726.50 L467.54,1726.50 L469.59,1726.50 L471.65,1726.50 L473.70,1726.50 L475.76,1726.50 L477.81,1726.50 L479.86,1726.50 L481.92,1726.50 L483.97,1726.50 L486.03,1726.50 L488.08,1726.50 L490.14,1726.50 L492.19,1726.50 L494.25,1726.50 L496.30,1726.48 L498.36,1726.47 L500.41,1726.45 L502.47,1726.43 L504.52,1726.42 L506.58,1726.40 L508.63,1726.38 L510.69,1726.37 L512.74,1726.35 L514.80,1726.33 L516.85,1726.31 L518.91,1726.29 L520.96,1726.27 L523.02,1726.25 L525.07,1726.22 L527.13,1726.20 L529.18,1726.18 L531.23,1726.15 L533.29,1726.13 L535.34,1726.10 L537.40,1726.08 L539.45,1726.05 L541.51,1726.02 L543.56,1726.00 L545.62,1725.97 L547.67,1725.94 L549.73,1725.91 L551.78,1725.88 L553.84,1725.85 L555.89,1725.82 L557.95,1725.79 L560.00,1725.75 L562.06,1725.72 L564.11,1725.69 L566.17,1725.65 L568.22,1725.62 L570.28,1725.58 L572.33,1725.54 L574.39,1725.50 L576.44,1725.47 L578.49,1725.43 L580.55,1725.39 L582.60,1725.35 L584.66,1725.30 L586.71,1725.26 L588.77,1725.22 L590.82,1725.18 L592.88,1725.13 L594.93,1725.09 L596.99,1725.04 L599.04,1724.99 L601.10,1724.95 L603.15,1724.90 L605.21,1724.85 L607.26,1724.80 L609.32,1724.75 L611.37,1724.70 L613.43,1724.65 L615.48,1724.59 L617.54,1724.54 L619.59,1724.49 L621.65,1724.43 L623.70,1724.37 L625.76,1724.32 L627.81,1724.26 L629.86,1724.20 L631.92,1724.14 L633.97,1724.08 L636.03,1724.02 L638.08,1723.96 L640.14,1723.89 L642.19,1723.83 L644.25,1723.76 L646.30,1723.70 L648.36,1723.63 L650.41,1723.56 L652.47,1723.50 L654.52,1723.43 L656.58,1723.36 L658.63,1723.29 L660.69,1723.21 L662.74,1723.14 L664.80,1723.07 L666.85,1722.99 L668.91,1722.92 L670.96,1722.84 L673.02,1722.76 L675.07,1722.68 L677.12,1722.60 L679.18,1722.52 L681.23,1722.44 L683.29,1722.36 L685.34,1722.28 L687.40,1722.19 L689.45,1722.11 L691.51,1722.02 L693.56,1721.93 L695.62,1721.85 L697.67,1721.76 L699.73,1721.67 L701.78,1721.57 L703.84,1721.48 L705.89,1721.39 L707.95,1721.29 L710.00,1721.20 L712.06,1721.10 L714.11,1721.01 L716.17,1720.91 L718.22,1720.81 L720.28,1720.71 L722.33,1720.61 L724.38,1720.50 L726.44,1720.40 L728.49,1720.30 L730.55,1720.19 L732.60,1720.08 L734.66,1719.98 L736.71,1719.87 L738.77,1719.76 L740.82,1719.65 L742.88,1719.53 L744.93,1719.42 L746.99,1719.31 L749.04,1719.19 L751.10,1719.07 L753.15,1718.96 L755.21,1718.84 L757.26,1718.72 L759.32,1718.60 L761.37,1718.48 L763.43,1718.35 L765.48,1718.23 L767.54,1718.10 L769.59,1717.98 L771.65,1717.85 L773.70,1717.72 L775.75,1717.59 L777.81,1717.46 L779.86,1717.33 L781.92,1717.20 L783.97,1717.06 L786.03,1716.93 L788.08,1716.79 L790.14,1716.65 L792.19,1716.51 L794.25,1716.37 L796.30,1716.23 L798.36,1716.09 L800.41,1715.95 L802.47,1715.80 L804.52,1715.66 L806.58,1715.51 L808.63,1715.36 L810.69,1715.21 L812.74,1715.06 L814.80,1714.91 L816.85,1714.76 L818.91,1714.60 L820.96,1714.45 L823.01,1714.29 L825.07,1714.13 L827.12,1713.98 L829.18,1713.82 L831.23,1713.66 L833.29,1713.49 L835.34,1713.33 L837.40,1713.16 L839.45,1713.00 L841.51,1712.83 L843.56,1712.66 L845.62,1712.49 L847.67,1712.32 L849.73,1712.15 L851.78,1711.98 L853.84,1711.80 L855.89,1711.63 L857.95,1711.45 L860.00,1711.28 L862.06,1711.10 L864.11,1710.92 L866.17,1710.73 L868.22,1710.55 L870.28,1710.37 L872.33,1710.18 L874.38,1710.00 L876.44,1709.81 L878.49,1709.62 L880.55,1709.43 L882.60,1709.24 L884.66,1709.05 L886.71,1708.85 L888.77,1708.66 L890.82,1708.46 L892.88,1708.26 L894.93,1708.06 L896.99,1707.86 L899.04,1707.66 L901.10,1707.46 L903.15,1707.25 L905.21,1707.04 L907.26,1706.84 L909.32,1706.63 L911.37,1706.42 L913.43,1706.20 L915.48,1705.99 L917.54,1705.78 L919.59,1705.56 L921.64,1705.34 L923.70,1705.12 L925.75,1704.90 L927.81,1704.68 L929.86,1704.46 L931.92,1704.24 L933.97,1704.01 L936.03,1703.79 L938.08,1703.56 L940.14,1703.33 L942.19,1703.10 L944.25,1702.87 L946.30,1702.64 L948.36,1702.41 L950.41,1702.18 L952.47,1701.94 L954.52,1701.71 L956.58,1701.47 L958.63,1701.24 L960.69,1701.00 L962.74,1700.76 L964.80,1700.52 L966.85,1700.28 L968.90,1700.03 L970.96,1699.79 L973.01,1699.54 L975.07,1699.30 L977.12,1699.05 L979.18,1698.80 L981.23,1698.55 L983.29,1698.30 L985.34,1698.05 L987.40,1697.80 L989.45,1697.54 L991.51,1697.29 L993.56,1697.03 L995.62,1696.77 L997.67,1696.51 L999.73,1696.25 L1001.78,1695.99 L1003.84,1695.73 L1005.89,1695.47 L1007.95,1695.20 L1010.00,1694.94 L1012.06,1694.67 L1014.11,1694.40 L1016.17,1694.14 L1018.22,1693.87 L1020.27,1693.59 L1022.33,1693.32 L1024.38,1693.05 L1026.44,1692.78 L1028.49,1692.50 L1030.55,1692.22 L1032.60,1691.95 L1034.66,1691.67 L1036.71,1691.39 L1038.77,1691.11 L1040.82,1690.83 L1042.88,1690.55 L1044.93,1690.26 L1046.99,1689.98 L1049.04,1689.69 L1051.10,1689.41 L1053.15,1689.12 L1055.21,1688.83 L1057.26,1688.54 L1059.32,1688.25 L1061.37,1687.96 L1063.43,1687.67 L1065.48,1687.37 L1067.53,1687.08 L1069.59,1686.78 L1071.64,1686.49 L1073.70,1686.19 L1075.75,1685.89 L1077.81,1685.59 L1079.86,1685.29 L1081.92,1684.99 L1083.97,1684.69 L1086.03,1684.39 L1088.08,1684.08 L1090.14,1683.78 L1092.19,1683.47 L1094.25,1683.17 L1096.30,1682.86 L1098.36,1682.55 L1100.41,1682.24 L1102.47,1681.93 L1104.52,1681.62 L1106.58,1681.31 L1108.63,1680.99 L1110.69,1680.68 L1112.74,1680.36 L1114.80,1680.05 L1116.85,1679.73 L1118.90,1679.41 L1120.96,1679.10 L1123.01,1678.78 L1125.07,1678.46 L1127.12,1678.14 L1129.18,1677.82 L1131.23,1677.49 L1133.29,1677.17 L1135.34,1676.85 L1137.40,1676.53 L1139.45,1676.20 L1141.51,1675.88 L1143.56,1675.55 L1145.62,1675.23 L1147.67,1674.90 L1149.73,1674.57 L1151.78,1674.25 L1153.84,1673.92 L1155.89,1673.59 L1157.95,1673.26 L1160.00,1672.93 L1162.06,1672.60 L1164.11,1672.27 L1166.16,1671.94 L1168.22,1671.61 L1170.27,1671.28 L1172.33,1670.95 L1174.38,1670.61 L1176.44,1670.28 L1178.49,1669.95 L1180.55,1669.61 L1182.60,1669.28 L1184.66,1668.94 L1186.71,1668.61 L1188.77,1668.27 L1190.82,1667.94 L1192.88,1667.60 L1194.93,1667.27 L1196.99,1666.93 L1199.04,1666.59 L1201.10,1666.26 L1203.15,1665.92 L1205.21,1665.58 L1207.26,1665.25 L1209.32,1664.91 L1211.37,1664.58 L1213.43,1664.24 L1215.48,1663.90 L1217.53,1663.57 L1219.59,1663.23 L1221.64,1662.90 L1223.70,1662.56 L1225.75,1662.23 L1227.81,1661.89 L1229.86,1661.55 L1231.92,1661.22 L1233.97,1660.88 L1236.03,1660.54 L1238.08,1660.21 L1240.14,1659.87 L1242.19,1659.53 L1244.25,1659.20 L1246.30,1658.86 L1248.36,1658.53 L1250.41,1658.19 L1252.47,1657.86 L1254.52,1657.52 L1256.58,1657.19 L1258.63,1656.86 L1260.69,1656.53 L1262.74,1656.19 L1264.79,1655.86 L1266.85,1655.53 L1268.90,1655.21 L1270.96,1654.88 L1273.01,1654.55 L1275.07,1654.23 L1277.12,1653.91 L1279.18,1653.58 L1281.23,1653.26 L1283.29,1652.95 L1285.34,1652.63 L1287.40,1652.31 L1289.45,1652.00 L1291.51,1651.69 L1293.56,1651.37 L1295.62,1651.06 L1297.67,1650.75 L1299.73,1650.45 L1301.78,1650.14 L1303.84,1649.83 L1305.89,1649.52 L1307.95,1649.22 L1310.00,1648.91 L1312.05,1648.61 L1314.11,1648.31 L1316.16,1648.01 L1318.22,1647.71 L1320.27,1647.41 L1322.33,1647.11 L1324.38,1646.82 L1326.44,1646.52 L1328.49,1646.23 L1330.55,1645.94 L1332.60,1645.64 L1334.66,1645.35 L1336.71,1645.07 L1338.77,1644.78 L1340.82,1644.49 L1342.88,1644.21 L1344.93,1643.93 L1346.99,1643.65 L1349.04,1643.37 L1351.10,1643.09 L1353.15,1642.81 L1355.21,1642.54 L1357.26,1642.26 L1359.32,1641.99 L1361.37,1641.73 L1363.42,1641.46 L1365.48,1641.20 L1367.53,1640.94 L1369.59,1640.68 L1371.64,1640.42 L1373.70,1640.17 L1375.75,1639.92 L1377.81,1639.67 L1379.86,1639.43 L1381.92,1639.18 L1383.97,1638.94 L1386.03,1638.70 L1388.08,1638.47 L1390.14,1638.23 L1392.19,1638.00 L1394.25,1637.77 L1396.30,1637.54 L1398.36,1637.31 L1400.41,1637.09 L1402.47,1636.86 L1404.52,1636.64 L1406.58,1636.42 L1408.63,1636.21 L1410.68,1635.99 L1412.74,1635.78 L1414.79,1635.56 L1416.85,1635.35 L1418.90,1635.14 L1420.96,1634.93 L1423.01,1634.73 L1425.07,1634.52 L1427.12,1634.32 L1429.18,1634.12 L1431.23,1633.92 L1433.29,1633.72 L1435.34,1633.53 L1437.40,1633.33 L1439.45,1633.14 L1441.51,1632.95 L1443.56,1632.77 L1445.62,1632.58 L1447.67,1632.40 L1449.73,1632.22 L1451.78,1632.04 L1453.84,1631.87 L1455.89,1631.69 L1457.95,1631.52 L1460.00,1631.36 L1462.05,1631.19 L1464.11,1631.03 L1466.16,1630.86 L1468.22,1630.71 L1470.27,1630.55 L1472.33,1630.40 L1474.38,1630.24 L1476.44,1630.10 L1478.49,1629.95 L1480.55,1629.81 L1482.60,1629.67 L1484.66,1629.53 L1486.71,1629.39 L1488.77,1629.26 L1490.82,1629.13 L1492.88,1629.00 L1494.93,1628.87 L1496.99,1628.75 L1499.04,1628.63 L1501.10,1628.51 L1503.15,1628.40 L1505.21,1628.29 L1507.26,1628.18 L1509.31,1628.07 L1511.37,1627.97 L1513.42,1627.87 L1515.48,1627.77 L1517.53,1627.68 L1519.59,1627.58 L1521.64,1627.49 L1523.70,1627.41 L1525.75,1627.32 L1527.81,1627.24 L1529.86,1627.17 L1531.92,1627.09 L1533.97,1627.02 L1536.03,1626.95 L1538.08,1626.88 L1540.14,1626.82 L1542.19,1626.76 L1544.25,1626.70 L1546.30,1626.65 L1548.36,1626.60 L1550.41,1626.55 L1552.47,1626.50 L1554.52,1626.46 L1556.57,1626.42 L1558.63,1626.39 L1560.68,1626.35 L1562.74,1626.32 L1564.79,1626.30 L1566.85,1626.28 L1568.90,1626.26 L1570.96,1626.24 L1573.01,1626.23 L1575.07,1626.22 L1577.12,1626.21 L1579.18,1626.21 L1581.23,1626.21 L1583.29,1626.21 L1585.34,1626.22 L1587.40,1626.23 L1589.45,1626.24 L1591.51,1626.26 L1593.56,1626.28 L1595.62,1626.30 L1597.67,1626.33 L1599.73,1626.35 L1601.78,1626.38 L1603.84,1626.42 L1605.89,1626.45 L1607.94,1626.49 L1610.00,1626.54 L1612.05,1626.58 L1614.11,1626.63 L1616.16,1626.68 L1618.22,1626.73 L1620.27,1626.79 L1622.33,1626.85 L1624.38,1626.91 L1626.44,1626.97 L1628.49,1627.03 L1630.55,1627.10 L1632.60,1627.17 L1634.66,1627.25 L1636.71,1627.33 L1638.77,1627.41 L1640.82,1627.49 L1642.88,1627.58 L1644.93,1627.67 L1646.99,1627.76 L1649.04,1627.86 L1651.10,1627.96 L1653.15,1628.06 L1655.20,1628.17 L1657.26,1628.28 L1659.31,1628.39 L1661.37,1628.50 L1663.42,1628.62 L1665.48,1628.74 L1667.53,1628.86 L1669.59,1628.99 L1671.64,1629.12 L1673.70,1629.25 L1675.75,1629.38 L1677.81,1629.52 L1679.86,1629.66 L1681.92,1629.80 L1683.97,1629.94 L1686.03,1630.09 L1688.08,1630.24 L1690.14,1630.39 L1692.19,1630.55 L1694.25,1630.71 L1696.30,1630.87 L1698.36,1631.03 L1700.41,1631.20 L1702.47,1631.37 L1704.52,1631.54 L1706.57,1631.71 L1708.63,1631.89 L1710.68,1632.07 L1712.74,1632.25 L1714.79,1632.44 L1716.85,1632.63 L1718.90,1632.82 L1720.96,1633.01 L1723.01,1633.21 L1725.07,1633.41 L1727.12,1633.61 L1729.18,1633.82 L1731.23,1634.02 L1733.29,1634.23 L1735.34,1634.45 L1737.40,1634.66 L1739.45,1634.88 L1741.51,1635.10 L1743.56,1635.33 L1745.62,1635.55 L1747.67,1635.78 L1749.73,1636.01 L1751.78,1636.25 L1753.83,1636.49 L1755.89,1636.72 L1757.94,1636.97 L1760.00,1637.21 L1762.05,1637.46 L1764.11,1637.71 L1766.16,1637.96 L1768.22,1638.21 L1770.27,1638.46 L1772.33,1638.72 L1774.38,1638.98 L1776.44,1639.24 L1778.49,1639.50 L1780.55,1639.76 L1782.60,1640.03 L1784.66,1640.29 L1786.71,1640.56 L1788.77,1640.83 L1790.82,1641.10 L1792.88,1641.37 L1794.93,1641.65 L1796.99,1641.92 L1799.04,1642.20 L1801.10,1642.48 L1803.15,1642.76 L1805.20,1643.05 L1807.26,1643.33 L1809.31,1643.62 L1811.37,1643.91 L1813.42,1644.20 L1815.48,1644.49 L1817.53,1644.79 L1819.59,1645.08 L1821.64,1645.38 L1823.70,1645.68 L1825.75,1645.98 L1827.81,1646.29 L1829.86,1646.59 L1831.92,1646.90 L1833.97,1647.21 L1836.03,1647.51 L1838.08,1647.82 L1840.14,1648.13 L1842.19,1648.45 L1844.25,1648.76 L1846.30,1649.07 L1848.36,1649.39 L1850.41,1649.70 L1852.46,1650.02 L1854.52,1650.33 L1856.57,1650.65 L1858.63,1650.97 L1860.68,1651.29 L1862.74,1651.61 L1864.79,1651.93 L1866.85,1652.26 L1868.90,1652.58 L1870.96,1652.91 L1873.01,1653.24 L1875.07,1653.56 L1877.12,1653.89 L1879.18,1654.22 L1881.23,1654.56 L1883.29,1654.89 L1885.34,1655.22 L1887.40,1655.56 L1889.45,1655.90 L1891.51,1656.24 L1893.56,1656.58 L1895.62,1656.92 L1897.67,1657.26 L1899.72,1657.61 L1901.78,1657.95 L1903.83,1658.30 L1905.89,1658.64 L1907.94,1658.99 L1910.00,1659.34 L1912.05,1659.69 L1914.11,1660.03 L1916.16,1660.38 L1918.22,1660.73 L1920.27,1661.08 L1922.33,1661.43 L1924.38,1661.78 L1926.44,1662.13 L1928.49,1662.49 L1930.55,1662.84 L1932.60,1663.19 L1934.66,1663.55 L1936.71,1663.90 L1938.77,1664.26 L1940.82,1664.62 L1942.88,1664.97 L1944.93,1665.33 L1946.99,1665.69 L1949.04,1666.05 L1951.09,1666.42 L1953.15,1666.78 L1955.20,1667.14 L1957.26,1667.51 L1959.31,1667.87 L1961.37,1668.24 L1963.42,1668.61 L1965.48,1668.97 L1967.53,1669.34 L1969.59,1669.71 L1971.64,1670.08 L1973.70,1670.45 L1975.75,1670.82 L1977.81,1671.19 L1979.86,1671.56 L1981.92,1671.93 L1983.97,1672.30 L1986.03,1672.67 L1988.08,1673.04 L1990.14,1673.40 L1992.19,1673.77 L1994.25,1674.14 L1996.30,1674.51 L1998.35,1674.87 L2000.41,1675.24 L2002.46,1675.61 L2004.52,1675.98 L2006.57,1676.34 L2008.63,1676.71 L2010.68,1677.07 L2012.74,1677.44 L2014.79,1677.80 L2016.85,1678.17 L2018.90,1678.53 L2020.96,1678.89 L2023.01,1679.26 L2025.07,1679.62 L2027.12,1679.98 L2029.18,1680.34 L2031.23,1680.70 L2033.29,1681.07 L2035.34,1681.43 L2037.40,1681.79 L2039.45,1682.15 L2041.51,1682.51 L2043.56,1682.87 L2045.62,1683.23 L2047.67,1683.59 L2049.72,1683.95 L2051.78,1684.31 L2053.83,1684.67 L2055.89,1685.03 L2057.94,1685.39 L2060.00,1685.75 L2062.05,1686.11 L2064.11,1686.46 L2066.16,1686.82 L2068.22,1687.18 L2070.27,1687.53 L2072.33,1687.89 L2074.38,1688.24 L2076.44,1688.59 L2078.49,1688.94 L2080.55,1689.30 L2082.60,1689.64 L2084.66,1689.99 L2086.71,1690.34 L2088.77,1690.69 L2090.82,1691.03 L2092.88,1691.37 L2094.93,1691.71 L2096.98,1692.05 L2099.04,1692.39 L2101.09,1692.73 L2103.15,1693.07 L2105.20,1693.40 L2107.26,1693.74 L2109.31,1694.07 L2111.37,1694.41 L2113.42,1694.74 L2115.48,1695.07 L2117.53,1695.40 L2119.59,1695.74 L2121.64,1696.07 L2123.70,1696.40 L2125.75,1696.72 L2127.81,1697.05 L2129.86,1697.38 L2131.92,1697.70 L2133.97,1698.03 L2136.03,1698.35 L2138.08,1698.67 L2140.14,1698.99 L2142.19,1699.31 L2144.24,1699.63 L2146.30,1699.94 L2148.35,1700.26 L2150.41,1700.57 L2152.46,1700.88 L2154.52,1701.19 L2156.57,1701.49 L2158.63,1701.80 L2160.68,1702.10 L2162.74,1702.40 L2164.79,1702.70 L2166.85,1703.00 L2168.90,1703.29 L2170.96,1703.58 L2173.01,1703.88 L2175.07,1704.17 L2177.12,1704.45 L2179.18,1704.74 L2181.23,1705.03 L2183.29,1705.31 L2185.34,1705.59 L2187.40,1705.87 L2189.45,1706.15 L2191.51,1706.43 L2193.56,1706.70 L2195.61,1706.98 L2197.67,1707.25 L2199.72,1707.52 L2201.78,1707.79 L2203.83,1708.05 L2205.89,1708.32 L2207.94,1708.58 L2210.00,1708.84 L2212.05,1709.10 L2214.11,1709.36 L2216.16,1709.61 L2218.22,1709.87 L2220.27,1710.12 L2222.33,1710.37 L2224.38,1710.62 L2226.44,1710.86 L2228.49,1711.11 L2230.55,1711.35 L2232.60,1711.59 L2234.66,1711.83 L2236.71,1712.07 L2238.77,1712.30 L2240.82,1712.53 L2242.87,1712.76 L2244.93,1712.99 L2246.98,1713.22 L2249.04,1713.44 L2251.09,1713.67 L2253.15,1713.89 L2255.20,1714.11 L2257.26,1714.33 L2259.31,1714.54 L2261.37,1714.76 L2263.42,1714.97 L2265.48,1715.18 L2267.53,1715.39 L2269.59,1715.60 L2271.64,1715.80 L2273.70,1716.01 L2275.75,1716.21 L2277.81,1716.41 L2279.86,1716.61 L2281.92,1716.81 L2283.97,1717.00 L2286.03,1717.19 L2288.08,1717.39 L2290.14,1717.58 L2292.19,1717.77 L2294.24,1717.95 L2296.30,1718.14 L2298.35,1718.32 L2300.41,1718.51 L2302.46,1718.69 L2304.52,1718.87 L2306.57,1719.05 L2308.63,1719.23 L2310.68,1719.41 L2312.74,1719.59 L2314.79,1719.77 L2316.85,1719.95 L2318.90,1720.12 L2320.96,1720.30 L2323.01,1720.48 L2325.07,1720.65 L2327.12,1720.83 L2329.18,1721.00 L2331.23,1721.17 L2333.29,1721.34 L2335.34,1721.50 L2337.40,1721.67 L2339.45,1721.83 L2341.50,1721.99 L2343.56,1722.14 L2345.61,1722.29 L2347.67,1722.44 L2349.72,1722.59 L2351.78,1722.73 L2353.83,1722.87 L2355.89,1723.01 L2357.94,1723.14 L2360.00,1723.27 L2362.05,1723.39 L2364.11,1723.51 L2366.16,1723.63 L2368.22,1723.74 L2370.27,1723.84 L2372.33,1723.94 L2374.38,1724.03 L2376.44,1724.11 L2378.49,1724.17 L2380.55,1724.23 L2382.60,1724.28 L2384.66,1724.32 L2386.71,1724.35 L2388.76,1724.38" stroke-width="13" stroke-dasharray="9 59.14" stroke-dashoffset="0.74"/>
</g>
<g fill="#000">
<rect x="303.00" y="48.75" width="2107.00" height="7.50"/>
<rect x="303.00" y="1722.75" width="2110.25" height="7.50"/>
<rect x="332.25" y="48.75" width="7.50" height="1711.25"/>
<rect x="2405.75" y="52.00" width="7.50" height="1708.00"/>
<rect x="319.00" y="1646.66" width="17.00" height="7.50"/>
<rect x="303.00" y="1570.57" width="33.00" height="7.50"/>
<rect x="319.00" y="1494.48" width="17.00" height="7.50"/>
<rect x="303.00" y="1418.39" width="33.00" height="7.50"/>
<rect x="319.00" y="1342.30" width="17.00" height="7.50"/>
<rect x="303.00" y="1266.20" width="33.00" height="7.50"/>
<rect x="319.00" y="1190.11" width="17.00" height="7.50"/>
<rect x="303.00" y="1114.02" width="33.00" height="7.50"/>
<rect x="319.00" y="1037.93" width="17.00" height="7.50"/>
<rect x="303.00" y="961.84" width="33.00" height="7.50"/>
<rect x="319.00" y="885.75" width="17.00" height="7.50"/>
<rect x="303.00" y="809.66" width="33.00" height="7.50"/>
<rect x="319.00" y="733.57" width="17.00" height="7.50"/>
<rect x="303.00" y="657.48" width="33.00" height="7.50"/>
<rect x="319.00" y="581.39" width="17.00" height="7.50"/>
<rect x="303.00" y="505.30" width="33.00" height="7.50"/>
<rect x="319.00" y="429.20" width="17.00" height="7.50"/>
<rect x="303.00" y="353.11" width="33.00" height="7.50"/>
<rect x="319.00" y="277.02" width="17.00" height="7.50"/>
<rect x="303.00" y="200.93" width="33.00" height="7.50"/>
<rect x="319.00" y="124.84" width="17.00" height="7.50"/>
<rect x="406.30" y="1726.50" width="7.50" height="16.50"/>
<rect x="480.36" y="1726.50" width="7.50" height="33.50"/>
<rect x="554.41" y="1726.50" width="7.50" height="16.50"/>
<rect x="628.46" y="1726.50" width="7.50" height="33.50"/>
<rect x="702.52" y="1726.50" width="7.50" height="16.50"/>
<rect x="776.57" y="1726.50" width="7.50" height="33.50"/>
<rect x="850.62" y="1726.50" width="7.50" height="16.50"/>
<rect x="924.68" y="1726.50" width="7.50" height="33.50"/>
<rect x="998.73" y="1726.50" width="7.50" height="16.50"/>
<rect x="1072.79" y="1726.50" width="7.50" height="33.50"/>
<rect x="1146.84" y="1726.50" width="7.50" height="16.50"/>
<rect x="1220.89" y="1726.50" width="7.50" height="33.50"/>
<rect x="1294.95" y="1726.50" width="7.50" height="16.50"/>
<rect x="1369.00" y="1726.50" width="7.50" height="33.50"/>
<rect x="1443.05" y="1726.50" width="7.50" height="16.50"/>
<rect x="1517.11" y="1726.50" width="7.50" height="33.50"/>
<rect x="1591.16" y="1726.50" width="7.50" height="16.50"/>
<rect x="1665.21" y="1726.50" width="7.50" height="33.50"/>
<rect x="1739.27" y="1726.50" width="7.50" height="16.50"/>
<rect x="1813.32" y="1726.50" width="7.50" height="33.50"/>
<rect x="1887.38" y="1726.50" width="7.50" height="16.50"/>
<rect x="1961.43" y="1726.50" width="7.50" height="33.50"/>
<rect x="2035.48" y="1726.50" width="7.50" height="16.50"/>
<rect x="2109.54" y="1726.50" width="7.50" height="33.50"/>
<rect x="2183.59" y="1726.50" width="7.50" height="16.50"/>
<rect x="2257.64" y="1726.50" width="7.50" height="33.50"/>
<rect x="2331.70" y="1726.50" width="7.50" height="16.50"/>
</g>
<text class="tk" transform="translate(280.90,1742.70) scale(1,1.0150)" text-anchor="end">0.00</text>
<text class="tk" transform="translate(280.90,1590.52) scale(1,1.0150)" text-anchor="end">0.05</text>
<text class="tk" transform="translate(280.90,1438.34) scale(1,1.0150)" text-anchor="end">0.10</text>
<text class="tk" transform="translate(280.90,1286.15) scale(1,1.0150)" text-anchor="end">0.15</text>
<text class="tk" transform="translate(280.90,1133.97) scale(1,1.0150)" text-anchor="end">0.20</text>
<text class="tk" transform="translate(280.90,981.79) scale(1,1.0150)" text-anchor="end">0.25</text>
<text class="tk" transform="translate(280.90,829.61) scale(1,1.0150)" text-anchor="end">0.30</text>
<text class="tk" transform="translate(280.90,677.43) scale(1,1.0150)" text-anchor="end">0.35</text>
<text class="tk" transform="translate(280.90,525.25) scale(1,1.0150)" text-anchor="end">0.40</text>
<text class="tk" transform="translate(280.90,373.06) scale(1,1.0150)" text-anchor="end">0.45</text>
<text class="tk" transform="translate(280.90,220.88) scale(1,1.0150)" text-anchor="end">0.50</text>
<text class="tk" transform="translate(280.90,68.70) scale(1,1.0150)" text-anchor="end">0.55</text>
<text class="tk" transform="translate(336.80,1824.20) scale(1,1.0150)" text-anchor="middle">0</text>
<text class="tk" transform="translate(484.84,1824.20) scale(1,1.0150)" text-anchor="middle">5</text>
<text class="tk" transform="translate(632.88,1824.20) scale(1,1.0150)" text-anchor="middle">10</text>
<text class="tk" transform="translate(780.92,1824.20) scale(1,1.0150)" text-anchor="middle">15</text>
<text class="tk" transform="translate(928.96,1824.20) scale(1,1.0150)" text-anchor="middle">20</text>
<text class="tk" transform="translate(1077.00,1824.20) scale(1,1.0150)" text-anchor="middle">25</text>
<text class="tk" transform="translate(1225.04,1824.20) scale(1,1.0150)" text-anchor="middle">30</text>
<text class="tk" transform="translate(1373.08,1824.20) scale(1,1.0150)" text-anchor="middle">35</text>
<text class="tk" transform="translate(1521.12,1824.20) scale(1,1.0150)" text-anchor="middle">40</text>
<text class="tk" transform="translate(1669.16,1824.20) scale(1,1.0150)" text-anchor="middle">45</text>
<text class="tk" transform="translate(1817.20,1824.20) scale(1,1.0150)" text-anchor="middle">50</text>
<text class="tk" transform="translate(1965.24,1824.20) scale(1,1.0150)" text-anchor="middle">55</text>
<text class="tk" transform="translate(2113.28,1824.20) scale(1,1.0150)" text-anchor="middle">60</text>
<text class="tk" transform="translate(2261.32,1824.20) scale(1,1.0150)" text-anchor="middle">65</text>
<text class="tk" transform="translate(2409.36,1824.20) scale(1,1.0150)" text-anchor="middle">70</text>
<text class="tt" style="letter-spacing:0.32px" transform="translate(75,1188.5) rotate(-90) scale(1,1.0000)">Density of probability</text>
<text class="tt" transform="translate(0,1906.7) scale(1,1.0000)"><tspan x="947.3">Boride layer thickness </tspan><tspan class="sy" x="1659.8" dy="-1.5" style="font-size:62px;stroke-width:0.9px">(</tspan><tspan class="sy" x="1680.6" dy="1.5" style="font-size:71px">μ</tspan><tspan x="1718.3">m</tspan><tspan class="sy" x="1778.2" dy="-1.5" style="font-size:62px;stroke-width:0.9px">)</tspan></text>
<text class="lg" transform="translate(1806.40,490.00) scale(1,1.0200)" text-anchor="start">Treatment time:</text>
<text class="lg" transform="translate(1966.10,568.00) scale(1,1.0200)" text-anchor="start" style="letter-spacing:-0.35px">1,200 s</text>
<text class="lg" transform="translate(1966.10,645.10) scale(1,1.0200)" text-anchor="start" style="letter-spacing:-0.35px">5,400 s</text>
<text class="lg" transform="translate(1966.10,722.80) scale(1,1.0200)" text-anchor="start" style="letter-spacing:-0.35px">10,800 s</text>
<text class="lg" transform="translate(1966.10,800.80) scale(1,1.0200)" text-anchor="start" style="letter-spacing:-0.35px">18,000 s</text>
<g fill="#000">
<rect x="1806" y="538" width="142" height="17"/>
<rect x="1806" y="623.5" width="142" height="1.4"/>
<rect x="1806" y="699" width="20" height="5"/>
<rect x="1846" y="699" width="20" height="5"/>
<rect x="1887" y="699" width="19" height="5"/>
<rect x="1927" y="699" width="20" height="5"/>
<rect x="1806" y="773" width="9" height="13"/>
<rect x="1874" y="773" width="9" height="13"/>
<rect x="1942" y="773" width="6" height="13"/>
</g>
</svg></body></html>
